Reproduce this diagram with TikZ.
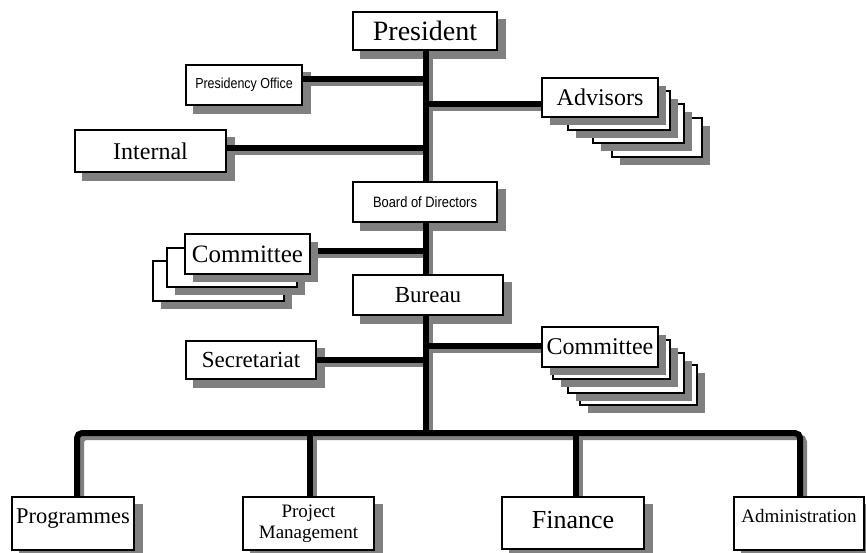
\documentclass[tikz,border=0pt]{standalone}
\usepackage{fontspec}
\setmainfont{Liberation Serif}
\newfontfamily\narrowsans[FakeStretch=0.86]{Liberation Sans}
\usetikzlibrary{shadows}
\pgfdeclarelayer{boxshadow}
\pgfdeclarelayer{lineshadow}
\pgfdeclarelayer{lines}
\pgfsetlayers{boxshadow,lineshadow,lines,main}
\newcommand\fs[1]{\fontsize{#1}{#1}\selectfont}
% a thick connector with its grey offset shadow underneath
\newcommand\orgline[1]{%
  \begin{pgfonlayer}{lineshadow}\draw[connshade] #1;\end{pgfonlayer}%
  \begin{pgfonlayer}{lines}\draw[conn] #1;\end{pgfonlayer}}
\begin{document}
\begin{tikzpicture}[x=1pt,y=-1pt,
  box/.style={draw=black,line width=1.4pt,fill=white,inner sep=0pt,align=center},
  stackbox/.style={box,drop shadow={shadow xshift=8pt,shadow yshift=-8pt,opacity=1,fill=black!50}},
  conn/.style={line width=6pt,line cap=round,rounded corners=5pt},
  connshade/.style={conn,draw=black!50,transform canvas={xshift=4pt,yshift=-4pt}},
  big/.style={font=\fs{28}},
  mid/.style={font=\fs{24}},
  small/.style={font=\fs{19}\linespread{1.1}\selectfont},
  tiny/.style={font=\narrowsans\fs{14.5}}]
\useasboundingbox (0,0) rectangle (866,552);

% single boxes
\node[box,big,minimum width=144pt,minimum height=38pt] (pres) at (425,31) {President};
\node[box,tiny,minimum width=116pt,minimum height=40pt] (po) at (244,85) {Presidency Office};
\node[box,mid,minimum width=151pt,minimum height=42pt] (int) at (150.5,151) {Internal};
\node[box,tiny,font=\narrowsans\fs{15},minimum width=144pt,minimum height=40pt] (board) at (425,202) {Board of Directors};
\node[box,font=\fs{23},minimum width=150pt,minimum height=40pt] (bur) at (428,295) {Bureau};
\node[box,font=\fs{23},minimum width=130pt,minimum height=38pt] (sec) at (251,360) {Secretariat};

% bottom row
\node[box,font=\fs{22.5},minimum width=122pt,minimum height=53pt,text height=26pt,text depth=27pt] (prog) at (73,523.5) {Programmes};
\node[box,small,minimum width=131pt,minimum height=53pt] (pm) at (308.5,523.5) {Project\\Management};
\node[box,font=\fs{26},minimum width=142pt,minimum height=52pt,text height=31pt,text depth=21pt] (fin) at (573,523) {Finance};
\node[box,small,minimum width=130pt,minimum height=53pt,text height=25pt,text depth=28pt] (adm) at (799,523.5) {Administration};

% shadows of the single boxes
\begin{pgfonlayer}{boxshadow}
  \foreach \n in {pres,po,int,board,bur,sec,prog,pm,fin,adm}
    \fill[black!50] ([shift={(8,8)}]\n.north west) rectangle ([shift={(8,8)}]\n.south east);
\end{pgfonlayer}

% stacked boxes, back to front
\node[stackbox,minimum width=90pt,minimum height=39pt] (adv4) at (657,137.5) {};
\node[stackbox,minimum width=91pt,minimum height=39pt] (adv3) at (638.5,123.5) {};
\node[stackbox,minimum width=102pt,minimum height=39pt] (adv2) at (619,110.5) {};
\node[stackbox,mid,minimum width=116pt,minimum height=39pt] (adv) at (600,97.5) {Advisors};

\node[stackbox,minimum width=117pt,minimum height=40pt] (comr4) at (638.5,385) {};
\node[stackbox,minimum width=116pt,minimum height=40pt] (comr3) at (626,373) {};
\node[stackbox,minimum width=117pt,minimum height=39pt] (comr2) at (611.5,359.5) {};
\node[stackbox,mid,minimum width=116pt,minimum height=40pt] (comr) at (600,347) {Committee};

\node[stackbox,minimum width=131pt,minimum height=40pt] (coml3) at (218.5,281) {};
\node[stackbox,minimum width=130pt,minimum height=39pt] (coml2) at (232,267.5) {};
\node[stackbox,font=\fs{25},minimum width=125pt,minimum height=40pt] (coml) at (247.5,254) {Committee};

% connectors
\coordinate (junction) at (426,433);
\coordinate (trunktop) at ([xshift=1pt]pres.south);
\orgline{(trunktop) -- (trunktop |- junction)}

\coordinate (poe) at ([yshift=6pt]po.east);
\orgline{(poe) -- (poe -| junction)}
\coordinate (inte) at ([yshift=3pt]int.east);
\orgline{(inte) -- (inte -| junction)}
\coordinate (advw) at ([yshift=-6.5pt]adv.west);
\orgline{(advw -| junction) -- (advw)}
\coordinate (comle) at ([yshift=3pt]coml.east);
\orgline{(comle) -- (comle -| junction)}
\orgline{(sec.east) -- (sec.east -| junction)}
\coordinate (comrw) at ([yshift=1pt]comr.west);
\orgline{(comrw -| junction) -- (comrw)}

\coordinate (progtop) at ([xshift=4pt]prog.north);
\coordinate (pmtop) at ([xshift=1.5pt]pm.north);
\coordinate (fintop) at ([xshift=3pt]fin.north);
\coordinate (admtop) at ([xshift=1pt]adm.north);
\orgline{(progtop) |- (junction) -| (admtop)}
\orgline{(pmtop) -- (pmtop |- junction)}
\orgline{(fintop) -- (fintop |- junction)}
\end{tikzpicture}
\end{document}
